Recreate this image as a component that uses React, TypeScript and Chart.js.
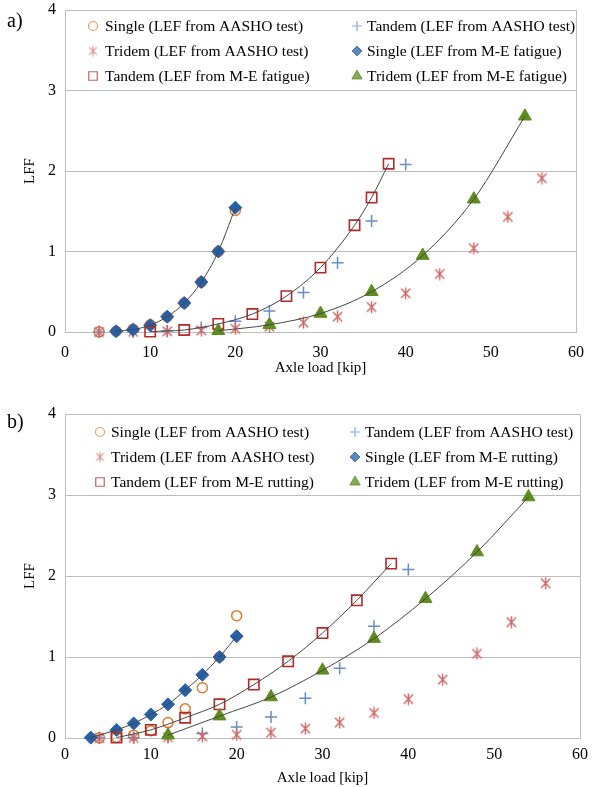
import React, { useEffect, useRef } from 'react';
import { Chart, registerables } from 'chart.js';
import { drawPoint } from 'chart.js/helpers';

Chart.register(...registerables);

// ---------- data ----------
const singleAashoX = [4, 6, 8, 10, 12, 14, 16, 18, 20];
const singleAasho = [0.002, 0.01, 0.035, 0.09, 0.19, 0.36, 0.62, 1.0, 1.51];
const tandemAashoX = [4, 8, 12, 16, 20, 24, 28, 32, 36, 40];
const tandemAasho = [0.0005, 0.003, 0.015, 0.055, 0.135, 0.26, 0.49, 0.86, 1.38, 2.08];
const tridemAashoX = [4, 8, 12, 16, 20, 24, 28, 32, 36, 40, 44, 48, 52, 56];
const tridemAasho = [0.0003, 0.002, 0.008, 0.02, 0.04, 0.066, 0.116, 0.19, 0.31, 0.48, 0.72, 1.04, 1.43, 1.91];

// (a) M-E fatigue
const singleFatigueX = [6, 8, 10, 12, 14, 16, 18, 20];
const singleFatigue = [0.01, 0.03, 0.085, 0.19, 0.36, 0.62, 1.0, 1.545];
const tandemFatigueX = [10, 14, 18, 22, 26, 30, 34, 36, 38];
const tandemFatigue = [0.005, 0.025, 0.1, 0.223, 0.446, 0.8, 1.326, 1.67, 2.09];
const tridemFatigueX = [18, 24, 30, 36, 42, 48, 54];
const tridemFatigue = [0.015, 0.09, 0.23, 0.5, 0.95, 1.65, 2.68];

// (b) M-E rutting
const singleRuttingX = [3, 6, 8, 10, 12, 14, 16, 18, 20];
const singleRutting = [0.005, 0.1, 0.18, 0.29, 0.416, 0.59, 0.78, 1.0, 1.256];
const tandemRuttingX = [6, 10, 14, 18, 22, 26, 30, 34, 38];
const tandemRutting = [0.005, 0.1, 0.25, 0.416, 0.66, 0.947, 1.296, 1.7, 2.153];
const tridemRuttingX = [12, 18, 24, 30, 36, 42, 48, 54];
const tridemRutting = [0.035, 0.27, 0.506, 0.836, 1.227, 1.72, 2.296, 2.975];

const xTicks = [0, 10, 20, 30, 40, 50, 60];
const yTicks = [0, 1, 2, 3, 4];

const labelsA = [
  'Single (LEF from AASHO test)',
  'Tandem (LEF from AASHO test)',
  'Tridem (LEF from AASHO test)',
  'Single (LEF from M-E fatigue)',
  'Tandem (LEF from M-E fatigue)',
  'Tridem (LEF from M-E fatigue)',
];
const labelsB = [
  'Single (LEF from AASHO test)',
  'Tandem (LEF from AASHO test)',
  'Tridem (LEF from AASHO test)',
  'Single (LEF from M-E rutting)',
  'Tandem (LEF from M-E rutting)',
  'Tridem (LEF from M-E rutting)',
];

const FONT = '"Liberation Serif", "DejaVu Serif", serif';
const C_ORANGE = '#E07B30';
const C_PLUS = '#6A8CC8';
const C_STAR = '#CC6664';
const C_DIAM = '#2860A6';
const C_SQ = '#B22A2A';
const C_TRI = '#5E8C1E';

const pts = (xs: number[], ys: number[]) => xs.map((x, i) => ({ x, y: ys[i] }));

function makeAsterisk(color: string, size: number, lw: number) {
  const c = document.createElement('canvas');
  c.width = size;
  c.height = size;
  const g = c.getContext('2d')!;
  g.strokeStyle = color;
  g.lineWidth = lw;
  const m = size / 2;
  const r = size / 2 - 0.5;
  const d = r * 0.78;
  g.beginPath();
  g.moveTo(m, m - r);
  g.lineTo(m, m + r);
  g.moveTo(m - d, m - d);
  g.lineTo(m + d, m + d);
  g.moveTo(m + d, m - d);
  g.lineTo(m - d, m + d);
  g.stroke();
  return c;
}

const framePlugin = {
  id: 'frame',
  beforeDatasetsDraw(chart: any) {
    const { ctx, chartArea } = chart;
    ctx.save();
    ctx.strokeStyle = '#BDBDBD';
    ctx.lineWidth = 1;
    ctx.strokeRect(
      Math.round(chartArea.left) + 0.5,
      Math.round(chartArea.top) + 0.5,
      Math.round(chartArea.right - chartArea.left),
      Math.round(chartArea.bottom - chartArea.top)
    );
    ctx.restore();
  },
};

const innerLegendPlugin = {
  id: 'innerLegend',
  afterDraw(chart: any, _args: any, opts: any) {
    if (!opts || !opts.items) return;
    const { ctx, chartArea } = chart;
    ctx.save();
    ctx.font = `15.5px ${FONT}`;
    ctx.textBaseline = 'middle';
    ctx.textAlign = 'left';
    opts.items.forEach((it: any, i: number) => {
      const col = i % 2;
      const row = Math.floor(i / 2);
      const sx = chartArea.left + opts.symX[col];
      const tx = chartArea.left + opts.textX[col];
      const y = chartArea.top + opts.rowY[row];
      ctx.save();
      ctx.globalAlpha = 0.75;
      ctx.fillStyle = it.fill;
      ctx.strokeStyle = it.stroke;
      ctx.lineWidth = it.bw;
      drawPoint(ctx, { pointStyle: it.style, radius: it.radius, borderWidth: it.bw, rotation: 0 } as any, sx, y);
      ctx.restore();
      ctx.fillStyle = '#000';
      ctx.fillText(it.label, tx, y + 1);
    });
    ctx.restore();
  },
};

function buildConfig(
  labels: string[],
  sX: number[], sY: number[],
  tX: number[], tY: number[],
  rX: number[], rY: number[],
  star: HTMLCanvasElement, starSmall: HTMLCanvasElement,
  geom: { padTop: number; xAxisH: number; tickPad: number; titlePadBottom: number; symX: number[]; textX: number[]; rowY: number[] }
) {
  const base = { clip: false as any, showLine: false };
  const trend = (xs: number[], ys: number[]) => ({
    data: pts(xs, ys),
    showLine: true,
    borderColor: '#454545',
    borderWidth: 1,
    pointRadius: 0,
    cubicInterpolationMode: 'monotone',
    fill: false,
    clip: false as any,
    order: -1,
  });
  const datasets: any[] = [
    { ...base, label: labels[0], data: pts(singleAashoX, singleAasho), pointStyle: 'circle', pointRadius: 5, pointBorderColor: C_ORANGE, pointBackgroundColor: 'rgba(255,255,255,0)', pointBorderWidth: 1.5, order: 6 },
    { ...base, label: labels[1], data: pts(tandemAashoX, tandemAasho), pointStyle: 'cross', pointRadius: 6, pointBorderColor: C_PLUS, pointBackgroundColor: C_PLUS, pointBorderWidth: 1.5, order: 5 },
    { ...base, label: labels[2], data: pts(tridemAashoX, tridemAasho), pointStyle: star, pointRadius: 6, order: 4 },
    { ...base, label: labels[3], data: pts(sX, sY), pointStyle: 'rectRot', pointRadius: 6.5, pointBorderColor: C_DIAM, pointBackgroundColor: C_DIAM, pointBorderWidth: 1, order: 3 },
    { ...base, label: labels[4], data: pts(tX, tY), pointStyle: 'rect', pointRadius: 7.3, pointBorderColor: C_SQ, pointBackgroundColor: 'rgba(255,255,255,0)', pointBorderWidth: 1.6, order: 2 },
    { ...base, label: labels[5], data: pts(rX, rY), pointStyle: 'triangle', pointRadius: 7.5, pointBorderColor: C_TRI, pointBackgroundColor: C_TRI, pointBorderWidth: 1, order: 1 },
    trend(sX, sY),
    trend(tX, tY),
    trend(rX, rY),
  ];
  const legendItems = [
    { label: labels[0], style: 'circle', radius: 4.5, fill: 'rgba(0,0,0,0)', stroke: C_ORANGE, bw: 1.2 },
    { label: labels[1], style: 'cross', radius: 5, fill: C_PLUS, stroke: C_PLUS, bw: 1.2 },
    { label: labels[2], style: starSmall, radius: 5, fill: C_STAR, stroke: C_STAR, bw: 1 },
    { label: labels[3], style: 'rectRot', radius: 5, fill: C_DIAM, stroke: C_DIAM, bw: 1 },
    { label: labels[4], style: 'rect', radius: 6, fill: 'rgba(0,0,0,0)', stroke: C_SQ, bw: 1.2 },
    { label: labels[5], style: 'triangle', radius: 6, fill: C_TRI, stroke: C_TRI, bw: 1 },
  ];
  return {
    type: 'scatter' as const,
    data: { datasets },
    plugins: [framePlugin, innerLegendPlugin],
    options: {
      animation: false as const,
      responsive: true,
      maintainAspectRatio: false,
      layout: { padding: { top: geom.padTop, right: 10, left: 0, bottom: 0 } },
      plugins: {
        legend: { display: false },
        tooltip: { enabled: false },
        innerLegend: { items: legendItems, symX: geom.symX, textX: geom.textX, rowY: geom.rowY },
      } as any,
      scales: {
        x: {
          type: 'linear' as const,
          min: 0,
          max: 60,
          afterBuildTicks: (s: any) => { s.ticks = xTicks.map((v) => ({ value: v })); },
          afterFit: (s: any) => { s.height = geom.xAxisH; },
          grid: { display: false, drawTicks: false },
          border: { display: false },
          ticks: { color: '#000', font: { family: FONT, size: 16 }, padding: geom.tickPad, maxRotation: 0 },
          title: { display: true, text: 'Axle load [kip]', color: '#000', font: { family: FONT, size: 15 }, padding: { top: 0, bottom: geom.titlePadBottom } },
        },
        y: {
          type: 'linear' as const,
          min: 0,
          max: 4,
          afterBuildTicks: (s: any) => { s.ticks = yTicks.map((v) => ({ value: v })); },
          afterFit: (s: any) => { s.width = 65; },
          grid: { color: '#BDBDBD', lineWidth: 1, drawTicks: false },
          border: { display: false },
          ticks: { color: '#000', font: { family: FONT, size: 16 }, padding: 9 },
          title: { display: true, text: 'LFF', color: '#000', font: { family: FONT, size: 15 }, padding: { top: 21, bottom: 0 } },
        },
      },
    },
  };
}

export default function App() {
  const topRef = useRef<HTMLCanvasElement>(null);
  const botRef = useRef<HTMLCanvasElement>(null);

  useEffect(() => {
    const star = makeAsterisk(C_STAR, 13, 1.4);
    const starSmall = makeAsterisk(C_STAR, 11, 1.1);
    const c1 = new Chart(
      topRef.current!,
      buildConfig(labelsA, singleFatigueX, singleFatigue, tandemFatigueX, tandemFatigue, tridemFatigueX, tridemFatigue, star, starSmall, {
        padTop: 24, xAxisH: 46, tickPad: 11, titlePadBottom: 1,
        symX: [28, 292], textX: [40, 302], rowY: [16, 41, 66],
      }) as any
    );
    const c2 = new Chart(
      botRef.current!,
      buildConfig(labelsB, singleRuttingX, singleRutting, tandemRuttingX, tandemRutting, tridemRuttingX, tridemRutting, star, starSmall, {
        padTop: 24, xAxisH: 49, tickPad: 7, titlePadBottom: 0,
        symX: [35, 290], textX: [46, 300], rowY: [18, 43, 68],
      }) as any
    );
    return () => {
      c1.destroy();
      c2.destroy();
    };
  }, []);

  return (
    <div style={{ position: 'fixed', left: 0, top: 0, width: 595, height: 787, background: '#fff', fontFamily: FONT, overflow: 'hidden' }}>
      <div style={{ position: 'absolute', left: 0, top: -14, width: 595, height: 392 }}>
        <canvas ref={topRef} />
      </div>
      <div style={{ position: 'absolute', left: 0, top: 390, width: 595, height: 397 }}>
        <canvas ref={botRef} />
      </div>
      <div style={{ position: 'absolute', left: 7, top: 10, fontSize: 20, lineHeight: '20px', color: '#000' }}>a)</div>
      <div style={{ position: 'absolute', left: 7, top: 411, fontSize: 20, lineHeight: '20px', color: '#000' }}>b)</div>
    </div>
  );
}
